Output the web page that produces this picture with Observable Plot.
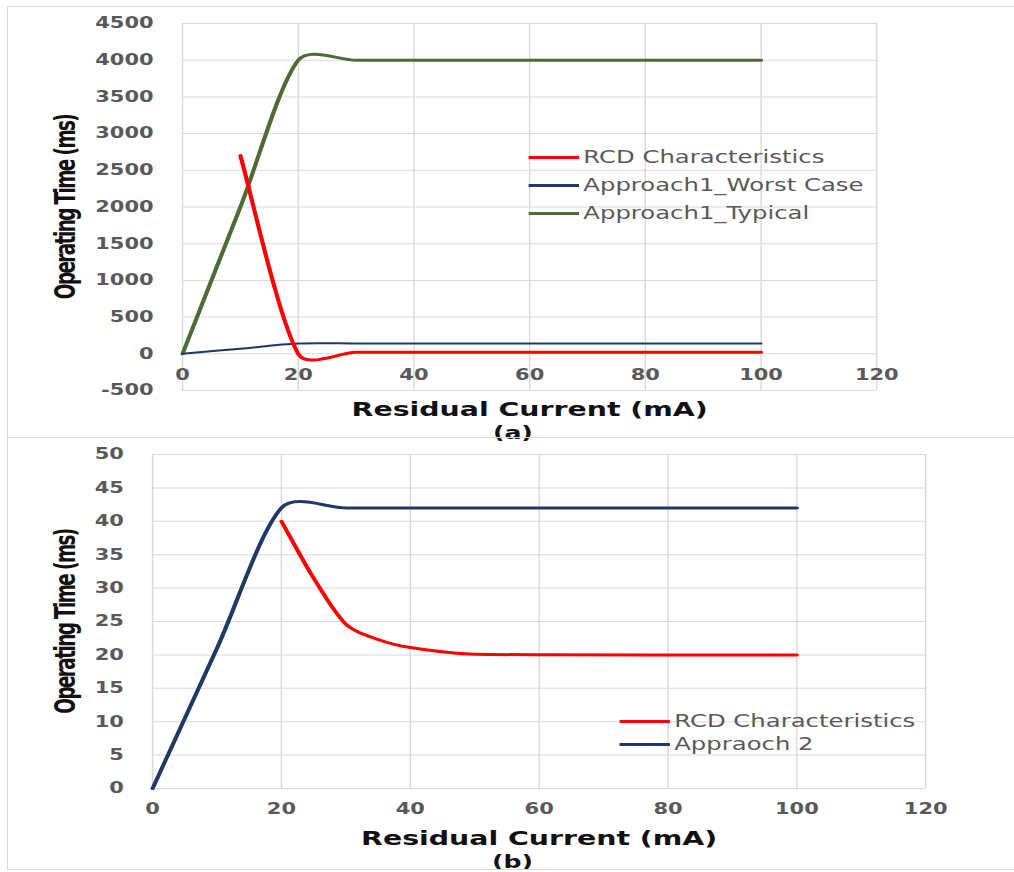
<!DOCTYPE html>
<html>
<head>
<meta charset="utf-8">
<script src="https://cdn.jsdelivr.net/npm/d3@7"></script>
<script src="https://cdn.jsdelivr.net/npm/@observablehq/plot@0.6"></script>
<style>
  html, body { margin: 0; padding: 0; background: #fff; }
  #page { position: relative; width: 1014px; height: 872px; overflow: hidden; background: #fff; }
  .chart { position: absolute; left: 0; width: 725px; transform-origin: 0 0; transform: scaleX(1.3986); }
  .border { position: absolute; background: #d9d9d9; }
  .legend { position: absolute; font-family: "DejaVu Sans", sans-serif; font-size: 17.4px; color: #595959; }
  .legend .row { position: absolute; left: 0; display: flex; align-items: center; height: 20px; white-space: nowrap; }
  .legend .sw { display: inline-block; width: 35.7px; height: 3px; }
  .legend .lbl { margin-left: 3.5px; line-height: 20px; }
</style>
</head>
<body>
<div id="page"></div>
<script>
// ---------- data ----------
const xTicks = [0, 20, 40, 60, 80, 100, 120];
const yTicksA = [-500, 0, 500, 1000, 1500, 2000, 2500, 3000, 3500, 4000, 4500];
const yTicksB = [0, 5, 10, 15, 20, 25, 30, 35, 40, 45, 50];

const seriesNamesA = ["RCD Characteristics", "Approach1_Worst Case", "Approach1_Typical"];
const seriesColorsA = ["#ff0000", "#1f3864", "#4e6b35"];
const rcdA_x = [10, 20, 30, 100];
const rcdA_y = [2700, 0, 20, 20];
const worstA_x = [0, 10, 20, 30, 100];
const worstA_y = [0, 70, 140, 140, 140];
const typicalA_x = [0, 10, 20, 30, 100];
const typicalA_y = [0, 2000, 4000, 4000, 4000];

const seriesNamesB = ["RCD Characteristics", "Appraoch 2"];
const seriesColorsB = ["#ff0000", "#1f3864"];
const rcdB_x = [20, 25, 30, 35, 40, 50, 100];
const rcdB_y = [40, 31.5, 24.6, 22.3, 21.1, 20.1, 20];
const app2B_x = [0, 10, 20, 30, 100];
const app2B_y = [0, 21, 42, 42, 42];

const xTitle = "Residual Current (mA)";
const yTitle = "Operating Time (ms)";

// ---------- helpers ----------
const SX = 1.3986; // horizontal stretch of the chart boxes
const zip = (xs, ys) => xs.map((x, i) => ({x, y: ys[i]}));

// spreadsheet-style smoothed line: cubic Bezier segments whose handles
// follow the neighbouring points, with handle length capped by the segment length
function smoothCurve(context) {
  let pts = [];
  const C = 0.3;
  return {
    areaStart() {}, areaEnd() {},
    lineStart() { pts = []; },
    point(x, y) { pts.push([+x * SX, +y]); },
    lineEnd() {
      const n = pts.length;
      if (!n) return;
      const out = (p) => [p[0] / SX, p[1]];
      const p0 = out(pts[0]);
      context.moveTo(p0[0], p0[1]);
      for (let i = 0; i < n - 1; i++) {
        const P1 = pts[i], P2 = pts[i + 1];
        const P0 = pts[i - 1] || P1, P3 = pts[i + 2] || P2;
        const d12 = Math.hypot(P2[0] - P1[0], P2[1] - P1[1]);
        const t1 = [P2[0] - P0[0], P2[1] - P0[1]], L1 = Math.hypot(...t1) || 1;
        const t2 = [P3[0] - P1[0], P3[1] - P1[1]], L2 = Math.hypot(...t2) || 1;
        const h1 = Math.min(L1 / 6, d12 * C), h2 = Math.min(L2 / 6, d12 * C);
        const B1 = out([P1[0] + t1[0] / L1 * h1, P1[1] + t1[1] / L1 * h1]);
        const B2 = out([P2[0] - t2[0] / L2 * h2, P2[1] - t2[1] / L2 * h2]);
        const E = out(P2);
        context.bezierCurveTo(B1[0], B1[1], B2[0], B2[1], E[0], E[1]);
      }
    }
  };
}

const page = document.getElementById("page");
const tickFont = {fontFamily: "DejaVu Sans, sans-serif", fontSize: 15, fontWeight: "bold", fill: "#595959"};
const titleFont = {fontFamily: "DejaVu Sans, sans-serif", fontSize: 20.3, fontWeight: "bold", fill: "#111"};
const yTitleFont = {fontFamily: "'Liberation Sans Narrow', 'DejaVu Sans Condensed', 'DejaVu Sans', sans-serif", fontSize: 20.5, fontWeight: "bold", fill: "#111"};

function addLegend(container, names, colors, left, tops) {
  const lg = document.createElement("div");
  lg.className = "legend";
  lg.style.left = left + "px";
  lg.style.top = "0px";
  names.forEach((n, i) => {
    const row = document.createElement("div");
    row.className = "row";
    row.style.top = (tops[i] - 10) + "px";
    const sw = document.createElement("span");
    sw.className = "sw";
    sw.style.background = colors[i];
    const lb = document.createElement("span");
    lb.className = "lbl";
    lb.textContent = n;
    row.appendChild(sw);
    row.appendChild(lb);
    lg.appendChild(row);
  });
  container.appendChild(lg);
}

function tightenYTitle(svg) {
  svg.querySelectorAll("text").forEach(t => {
    if (t.textContent === yTitle) t.style.letterSpacing = "-1.6px";
  });
}

// ---------- chart (a) ----------
const plotA = Plot.plot({
  width: 725,
  height: 437,
  marginTop: 23,
  marginBottom: 47,
  marginLeft: 130,
  marginRight: 98.6,
  style: {background: "transparent", overflow: "visible"},
  x: {domain: [0, 120], axis: null},
  y: {domain: [-500, 4500], axis: null},
  marks: [
    Plot.ruleY(yTicksA, {stroke: "#d9d9d9", strokeWidth: 1}),
    Plot.ruleX(xTicks, {stroke: "#d9d9d9", strokeWidth: 1}),
    Plot.line(zip(typicalA_x, typicalA_y), {x: "x", y: "y", stroke: seriesColorsA[2], strokeWidth: 3, curve: smoothCurve}),
    Plot.line(zip(worstA_x, worstA_y), {x: "x", y: "y", stroke: seriesColorsA[1], strokeWidth: 2, curve: smoothCurve}),
    Plot.line(zip(rcdA_x, rcdA_y), {x: "x", y: "y", stroke: seriesColorsA[0], strokeWidth: 3, curve: smoothCurve}),
    Plot.text(yTicksA, {y: d => d, text: d => String(d), frameAnchor: "left", dx: -20.7, textAnchor: "end", lineAnchor: "middle", ...tickFont}),
    Plot.text(xTicks, {x: d => d, y: d => 0, text: d => String(d), dy: 21, textAnchor: "middle", lineAnchor: "middle", ...tickFont}),
    Plot.text([xTitle], {frameAnchor: "bottom", dy: 19, textAnchor: "middle", lineAnchor: "middle", ...titleFont}),
    Plot.text(["(a)"], {frameAnchor: "bottom", dx: -12, dy: 43, textAnchor: "middle", lineAnchor: "middle", ...titleFont, fontSize: 18}),
    Plot.text([yTitle], {frameAnchor: "left", dx: -83.6, rotate: -90, textAnchor: "middle", lineAnchor: "middle", ...yTitleFont})
  ]
});
tightenYTitle(plotA);
const divA = document.createElement("div");
divA.className = "chart";
divA.style.top = "0px";
divA.style.height = "437px";
divA.appendChild(plotA);
addLegend(divA, seriesNamesA, seriesColorsA, 377.9, [157, 185, 213]);
page.appendChild(divA);

// ---------- chart (b) ----------
const plotB = Plot.plot({
  width: 725,
  height: 435,
  marginTop: 17,
  marginBottom: 84,
  marginLeft: 108.6,
  marginRight: 63.6,
  style: {background: "transparent", overflow: "visible"},
  x: {domain: [0, 120], axis: null},
  y: {domain: [0, 50], axis: null},
  marks: [
    Plot.ruleY(yTicksB, {stroke: "#d9d9d9", strokeWidth: 1}),
    Plot.ruleX(xTicks, {stroke: "#d9d9d9", strokeWidth: 1}),
    Plot.line(zip(app2B_x, app2B_y), {x: "x", y: "y", stroke: seriesColorsB[1], strokeWidth: 3, curve: smoothCurve}),
    Plot.line(zip(rcdB_x, rcdB_y), {x: "x", y: "y", stroke: seriesColorsB[0], strokeWidth: 3, curve: smoothCurve}),
    Plot.text(yTicksB, {y: d => d, text: d => String(d), frameAnchor: "left", dx: -20.5, textAnchor: "end", lineAnchor: "middle", ...tickFont}),
    Plot.text(xTicks, {x: d => d, text: d => String(d), frameAnchor: "bottom", dy: 21, textAnchor: "middle", lineAnchor: "middle", ...tickFont}),
    Plot.text([xTitle], {frameAnchor: "bottom", dy: 50, textAnchor: "middle", lineAnchor: "middle", ...titleFont}),
    Plot.text(["(b)"], {frameAnchor: "bottom", dx: -19, dy: 74, textAnchor: "middle", lineAnchor: "middle", ...titleFont, fontSize: 18}),
    Plot.text([yTitle], {frameAnchor: "left", dx: -62.2, rotate: -90, textAnchor: "middle", lineAnchor: "middle", ...yTitleFont})
  ]
});
tightenYTitle(plotB);
const divB = document.createElement("div");
divB.className = "chart";
divB.style.top = "437px";
divB.style.height = "435px";
divB.appendChild(plotB);
addLegend(divB, seriesNamesB, seriesColorsB, 442.9, [284, 307]);
page.appendChild(divB);

// ---------- chart-area borders ----------
[
  {left: 7, top: 6, width: 1007, height: 1},
  {left: 7, top: 6, width: 1, height: 864},
  {left: 7, top: 437, width: 1007, height: 1},
  {left: 7, top: 869, width: 1007, height: 1}
].forEach(b => {
  const d = document.createElement("div");
  d.className = "border";
  Object.assign(d.style, {left: b.left + "px", top: b.top + "px", width: b.width + "px", height: b.height + "px"});
  page.appendChild(d);
});
</script>
</body>
</html>
